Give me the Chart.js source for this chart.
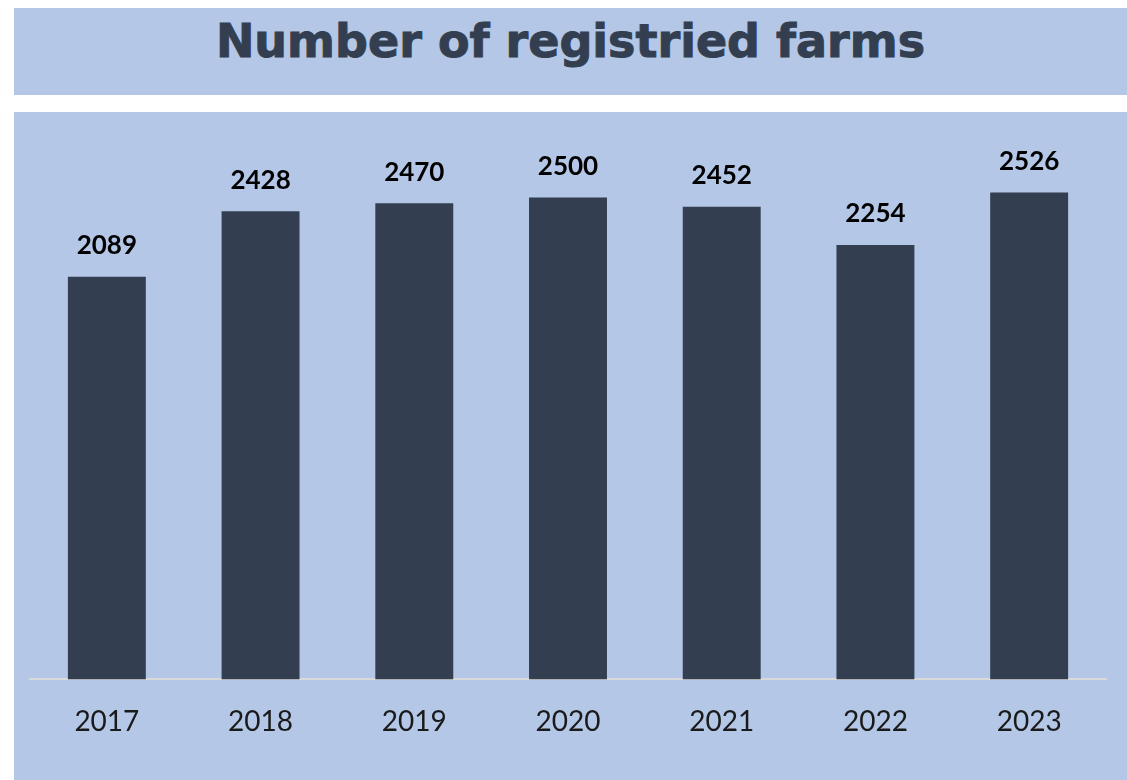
<!DOCTYPE html>
<html>
<head>
<meta charset="utf-8">
<script src="https://cdn.jsdelivr.net/npm/chart.js@4"></script>
<style>
  html, body { margin: 0; padding: 0; background: #ffffff; }
  body { width: 1127px; height: 780px; position: relative; overflow: hidden; }
  .title-box {
    position: absolute; left: 14px; top: 8px; width: 1113px; height: 87px;
    background: #b4c7e7; color: #333f50;
    font-family: "DejaVu Sans", sans-serif; font-weight: bold; font-size: 46px;
    -webkit-text-stroke: 1px #333f50;
    display: flex; align-items: center; justify-content: center;
    box-sizing: border-box; padding-bottom: 22px; padding-left: 0px;
  }
  .chart-box {
    position: absolute; left: 14px; top: 112px; width: 1113px; height: 668px;
    background: #b4c7e7;
  }
</style>
</head>
<body>
<div class="title-box">Number of registried farms</div>
<div class="chart-box"><canvas id="farmsChart"></canvas></div>
<script>
const years = ['2017', '2018', '2019', '2020', '2021', '2022', '2023'];
const farms = [2089, 2428, 2470, 2500, 2452, 2254, 2526];

document.addEventListener('DOMContentLoaded', function() {
    // подписи значений над столбцами
    const valueLabels = {
        id: 'valueLabels',
        afterDatasetsDraw(chart) {
            const ctx = chart.ctx;
            const meta = chart.getDatasetMeta(0);
            ctx.save();
            ctx.font = 'bold 26px Lato';
            ctx.fillStyle = '#000000';
            ctx.textAlign = 'center';
            ctx.textBaseline = 'bottom';
            meta.data.forEach((bar, i) => {
                ctx.fillText(farms[i], bar.x, bar.y - 18);
            });
            ctx.restore();
        }
    };

    const ctx = document.getElementById('farmsChart').getContext('2d');
    new Chart(ctx, {
        type: 'bar',
        data: {
            labels: years,
            datasets: [{
                data: farms,
                backgroundColor: '#333f50',
                barPercentage: 0.507,
                categoryPercentage: 1
            }]
        },
        options: {
            responsive: true,
            maintainAspectRatio: false,
            animation: false,
            layout: { padding: { left: 16, right: 21, top: 18, bottom: 15 } },
            plugins: {
                legend: { display: false },
                tooltip: { enabled: false }
            },
            scales: {
                x: {
                    grid: { display: false, drawTicks: false },
                    border: { color: '#d9d9d9', width: 2 },
                    ticks: {
                        color: '#1a1a1a',
                        font: { family: 'Lato', size: 28 },
                        padding: 26
                    }
                },
                y: {
                    display: false,
                    min: 0,
                    max: 2850
                }
            }
        },
        plugins: [valueLabels]
    });
});
</script>
</body>
</html>
